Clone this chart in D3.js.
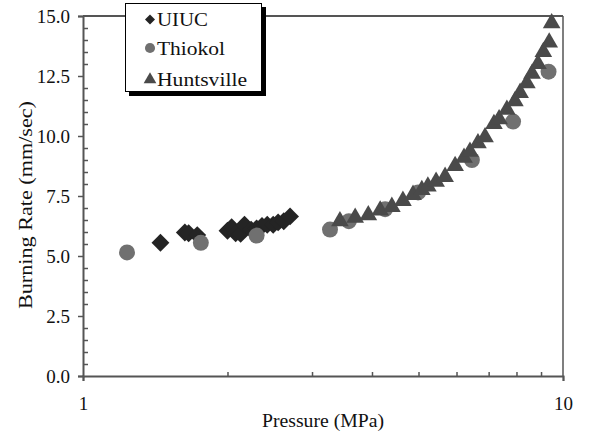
<!DOCTYPE html>
<html><head><meta charset="utf-8">
<script src="https://cdn.jsdelivr.net/npm/d3@7"></script>
<style>body{margin:0;background:#fff}svg{display:block}text{font-family:"Liberation Serif",serif;fill:#111}</style>
</head><body>
<script>
// ---- data ----
const seriesNames = ["UIUC", "Thiokol", "Huntsville"];
const uiucP = [1.45,1.63,1.66,1.73,2.0,2.04,2.08,2.13,2.17,2.24,2.3,2.36,2.42,2.49,2.55,2.62,2.7];
const uiucR = [5.55,5.98,5.95,5.87,6.05,6.2,5.95,5.92,6.3,6.1,6.15,6.25,6.3,6.3,6.4,6.45,6.65];
const thiokolP = [1.235,1.76,2.30,3.27,3.58,4.26,4.99,6.46,7.87,9.33];
const thiokolR = [5.15,5.55,5.85,6.1,6.45,6.95,7.65,9.0,10.6,12.68];
const huntsP = [3.43,3.69,3.93,4.16,4.40,4.64,4.87,5.08,5.23,5.44,5.68,5.96,6.22,6.40,6.65,6.88,7.18,7.36,7.64,7.94,8.14,8.41,8.62,8.87,9.10,9.36,9.47];
const huntsR = [6.45,6.6,6.7,6.9,7.05,7.3,7.55,7.75,7.9,8.1,8.3,8.75,9.1,9.35,9.7,9.95,10.5,10.7,11.1,11.45,11.8,12.2,12.6,13.0,13.5,13.9,14.7];
const yMajorTicks = [0, 2.5, 5, 7.5, 10, 12.5, 15];
const xLabelTicks = [1, 10];
const xMinorTicks = [2,3,4,5,6,7,8,9];
const xTitle = "Pressure (MPa)";
const yTitle = "Burning Rate (mm/sec)";

const W = 592, H = 435;
const svg = d3.select("body").append("svg").attr("width", W).attr("height", H);
const x = d3.scaleLog().domain([1, 10]).range([83, 563]);
const y = d3.scaleLinear().domain([0, 15]).range([376, 16]);
const axisColor = "#555";

// frame top/right
svg.append("line").attr("x1", x(1)).attr("x2", x(10)).attr("y1", y(15)).attr("y2", y(15))
  .attr("stroke", axisColor).attr("stroke-width", 2);
svg.append("line").attr("x1", x(10)).attr("x2", x(10)).attr("y1", y(15)).attr("y2", y(0))
  .attr("stroke", axisColor).attr("stroke-width", 1.5);

// y axis
const yMinor = d3.range(0, 15.01, 0.5).filter(v => Math.abs(v / 2.5 - Math.round(v / 2.5)) > 1e-6);
const gy = svg.append("g").attr("transform", `translate(${x(1)},0)`)
  .call(d3.axisLeft(y).tickValues(yMajorTicks).tickFormat(d3.format(".1f")).tickSize(5).tickPadding(8));
const gyMinor = svg.append("g").attr("transform", `translate(${x(1)},0)`)
  .call(d3.axisRight(y).tickValues(yMinor).tickFormat("").tickSize(5));
gyMinor.select(".domain").remove();

// x axis
const gx = svg.append("g").attr("transform", `translate(0,${y(0)})`)
  .call(d3.axisBottom(x).tickValues(xLabelTicks).tickFormat(d3.format("d")).tickSize(5).tickPadding(16));
const gxMinor = svg.append("g").attr("transform", `translate(0,${y(0)})`)
  .call(d3.axisTop(x).tickValues(xMinorTicks).tickFormat("").tickSize(4));
gxMinor.select(".domain").remove();

[gy, gyMinor, gx, gxMinor].forEach(g => {
  g.selectAll("path,line").attr("stroke", axisColor).attr("stroke-width", 1.5);
  g.selectAll("text").attr("font-size", 19).attr("font-family", "Liberation Serif").attr("fill", "#111");
});
gy.select(".domain").attr("stroke-width", 2);
gx.select(".domain").attr("stroke-width", 2);

// titles
svg.append("text").attr("x", 323).attr("y", 427).attr("text-anchor", "middle")
  .attr("font-size", 19).attr("textLength", 122).attr("lengthAdjust", "spacingAndGlyphs").text(xTitle);
svg.append("text").attr("transform", "translate(32,205) rotate(-90)").attr("text-anchor", "middle")
  .attr("font-size", 19).attr("textLength", 208).attr("lengthAdjust", "spacingAndGlyphs").text(yTitle);

// markers
const sym = {
  UIUC: { path: d3.symbol(d3.symbolSquare, 160)(), rot: 45, color: "#242424" },
  Thiokol: { path: d3.symbol(d3.symbolCircle, 200)(), rot: 0, color: "#707070" },
  Huntsville: { path: d3.symbol(d3.symbolTriangle, 135)(), rot: 0, color: "#4a4a4a" }
};
const data = [
  { name: "UIUC", pts: uiucP.map((p, i) => [p, uiucR[i]]) },
  { name: "Thiokol", pts: thiokolP.map((p, i) => [p, thiokolR[i]]) },
  { name: "Huntsville", pts: huntsP.map((p, i) => [p, huntsR[i]]) }
];
data.forEach(s => {
  svg.append("g").selectAll("path").data(s.pts).join("path")
    .attr("d", sym[s.name].path)
    .attr("transform", d => `translate(${x(d[0])},${y(d[1])}) rotate(${sym[s.name].rot})`)
    .attr("fill", sym[s.name].color);
});

// legend
const lg = svg.append("g");
lg.append("rect").attr("x", 129).attr("y", 7).attr("width", 137).attr("height", 89).attr("fill", "#000");
lg.append("rect").attr("x", 125.5).attr("y", 3.5).attr("width", 136).attr("height", 88)
  .attr("fill", "#fff").attr("stroke", "#000").attr("stroke-width", 1);
const legSym = {
  UIUC: d3.symbol(d3.symbolSquare, 50)(),
  Thiokol: d3.symbol(d3.symbolCircle, 80)(),
  Huntsville: d3.symbol(d3.symbolTriangle, 70)()
};
const legRows = [19.5, 48, 79.5];
const legLens = [51, 68, 90];
seriesNames.forEach((n, i) => {
  lg.append("path").attr("d", legSym[n])
    .attr("transform", `translate(150,${legRows[i]}) rotate(${sym[n].rot})`)
    .attr("fill", sym[n].color);
  lg.append("text").attr("x", 157).attr("y", legRows[i] + 6.5).attr("font-size", 19)
    .attr("textLength", legLens[i]).attr("lengthAdjust", "spacingAndGlyphs").text(n);
});
</script>
</body></html>
